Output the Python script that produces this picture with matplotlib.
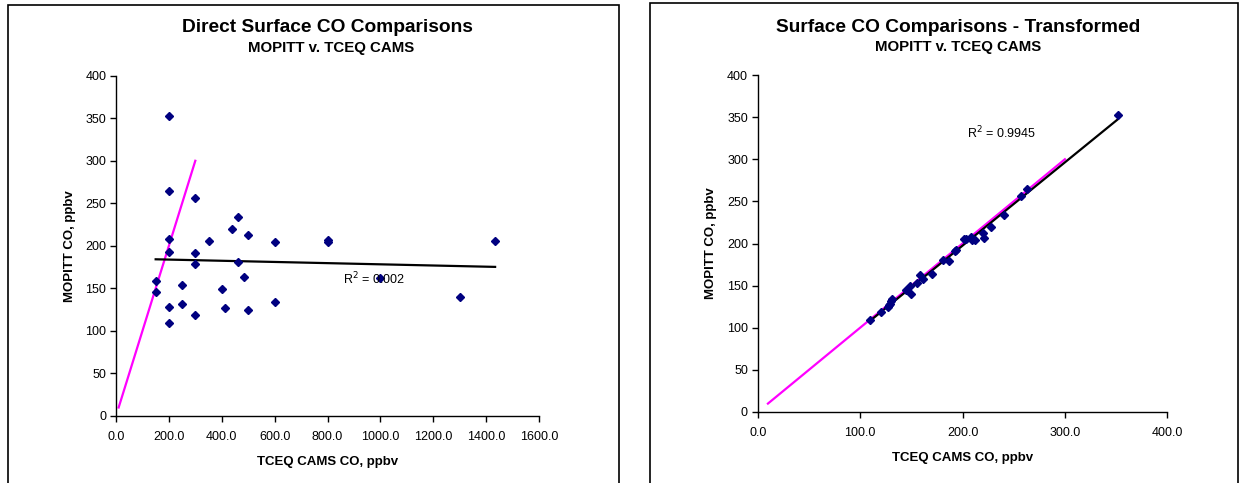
import numpy as np
import matplotlib.pyplot as plt
from matplotlib.patches import Rectangle
from matplotlib.ticker import FormatStrFormatter

plt.rcParams['font.family'] = ['Liberation Sans', 'DejaVu Sans']

# MOPITT surface CO (ppbv) - same for both panels
mopitt_co = [352.6, 264.5, 208.0, 192.8, 128.5, 108.9,
             255.8, 191.6, 178.7, 118.7,
             158.3, 145.4, 153.6, 131.3,
             205.7, 149.7, 127.3, 219.4, 233.5, 180.6, 163.4,
             212.4, 124.2, 204.1, 134.0, 206.9, 204.1,
             162.2, 139.9, 205.7]
# TCEQ CAMS CO (ppbv), direct
cams_direct = [200, 200, 200, 200, 200, 200,
               300, 300, 300, 300,
               150, 150, 250, 250,
               350, 400, 414, 437, 460, 460, 486,
               500, 500, 600, 600, 800, 800,
               1000, 1300, 1434]
# TCEQ CAMS CO (ppbv), transformed
cams_transformed = [351.5, 263.0, 208.6, 194.0, 129.5, 109.7,
                    257.0, 192.7, 186.8, 120.7,
                    161.0, 144.8, 155.6, 130.0,
                    203.0, 149.0, 128.0, 227.5, 240.5, 181.0, 170.2,
                    219.7, 127.0, 209.0, 131.5, 221.0, 212.0,
                    158.5, 149.4, 201.0]
# 1:1 reference line
ref_line = [10, 50, 100, 150, 200, 250, 300]

r2_direct = 'R$^2$ = 0.002'
r2_transformed = 'R$^2$ = 0.9945'

W, H = 1244, 483
fig = plt.figure(figsize=(W / 100, H / 100), dpi=100)

# chart frames
fig.patches.append(Rectangle((8 / W, -0.1), (619 - 8) / W, 1.1 - 5 / H, transform=fig.transFigure,
                             fill=False, edgecolor='black', linewidth=1.2))
fig.patches.append(Rectangle((650 / W, -0.1), (1238 - 650) / W, 1.1 - 3 / H, transform=fig.transFigure,
                             fill=False, edgecolor='black', linewidth=1.2))


def setup(ax, xmax, xstep):
    for s in ['top', 'right']:
        ax.spines[s].set_visible(False)
    ax.spines['left'].set_linewidth(1)
    ax.spines['bottom'].set_linewidth(1)
    ax.set_ylim(0, 400)
    ax.set_yticks(np.arange(0, 401, 50))
    ax.set_xlim(0, xmax)
    ax.set_xticks(np.arange(0, xmax + 1, xstep))
    ax.xaxis.set_major_formatter(FormatStrFormatter('%.1f'))
    ax.tick_params(direction='out', length=4, width=1, labelsize=9, pad=7)
    ax.tick_params(axis='y', pad=3)
    ax.set_xlabel('TCEQ CAMS CO, ppbv', fontsize=9.5, fontweight='bold', labelpad=9)
    ax.set_ylabel('MOPITT CO, ppbv', fontsize=9.5, fontweight='bold', labelpad=7)


def trend(ax, x, y):
    x = np.array(x, dtype=float)
    y = np.array(y, dtype=float)
    k, b = np.polyfit(x, y, 1)
    xs = np.array([x.min(), x.max()])
    ax.plot(xs, k * xs + b, color='black', linewidth=1.6, zorder=2)


# left panel
ax1 = fig.add_axes([116 / W, 67 / H, 423 / W, 340.3 / H])
setup(ax1, 1600, 200)
ax1.plot(ref_line, ref_line, color='#FF00FF', linewidth=1.6, zorder=2)
trend(ax1, cams_direct, mopitt_co)
ax1.plot(cams_direct, mopitt_co, linestyle='none', marker='D', markersize=4.5,
         color='#000080', zorder=3)
ax1.text(860, 161, r2_direct, fontsize=9, va='center', ha='left', zorder=4)

# right panel
ax2 = fig.add_axes([757.7 / W, 71 / H, 409.6 / W, 337 / H])
setup(ax2, 400, 100)
ax2.plot(ref_line, ref_line, color='#FF00FF', linewidth=1.6, zorder=2)
trend(ax2, cams_transformed, mopitt_co)
ax2.plot(cams_transformed, mopitt_co, linestyle='none', marker='D', markersize=4.5,
         color='#000080', zorder=3)
ax2.text(204, 331, r2_transformed, fontsize=9, va='center', ha='left')

# titles
fig.text(327 / W, 1 - 28 / H, 'Direct Surface CO Comparisons', fontsize=13.8,
         fontweight='bold', ha='center', va='center')
fig.text(331 / W, 1 - 48 / H, 'MOPITT v. TCEQ CAMS', fontsize=10.8,
         fontweight='bold', ha='center', va='center')
fig.text(958 / W, 1 - 27 / H, 'Surface CO Comparisons - Transformed', fontsize=13.8,
         fontweight='bold', ha='center', va='center')
fig.text(958 / W, 1 - 47 / H, 'MOPITT v. TCEQ CAMS', fontsize=10.8,
         fontweight='bold', ha='center', va='center')

fig.savefig('out.png', dpi=100)
